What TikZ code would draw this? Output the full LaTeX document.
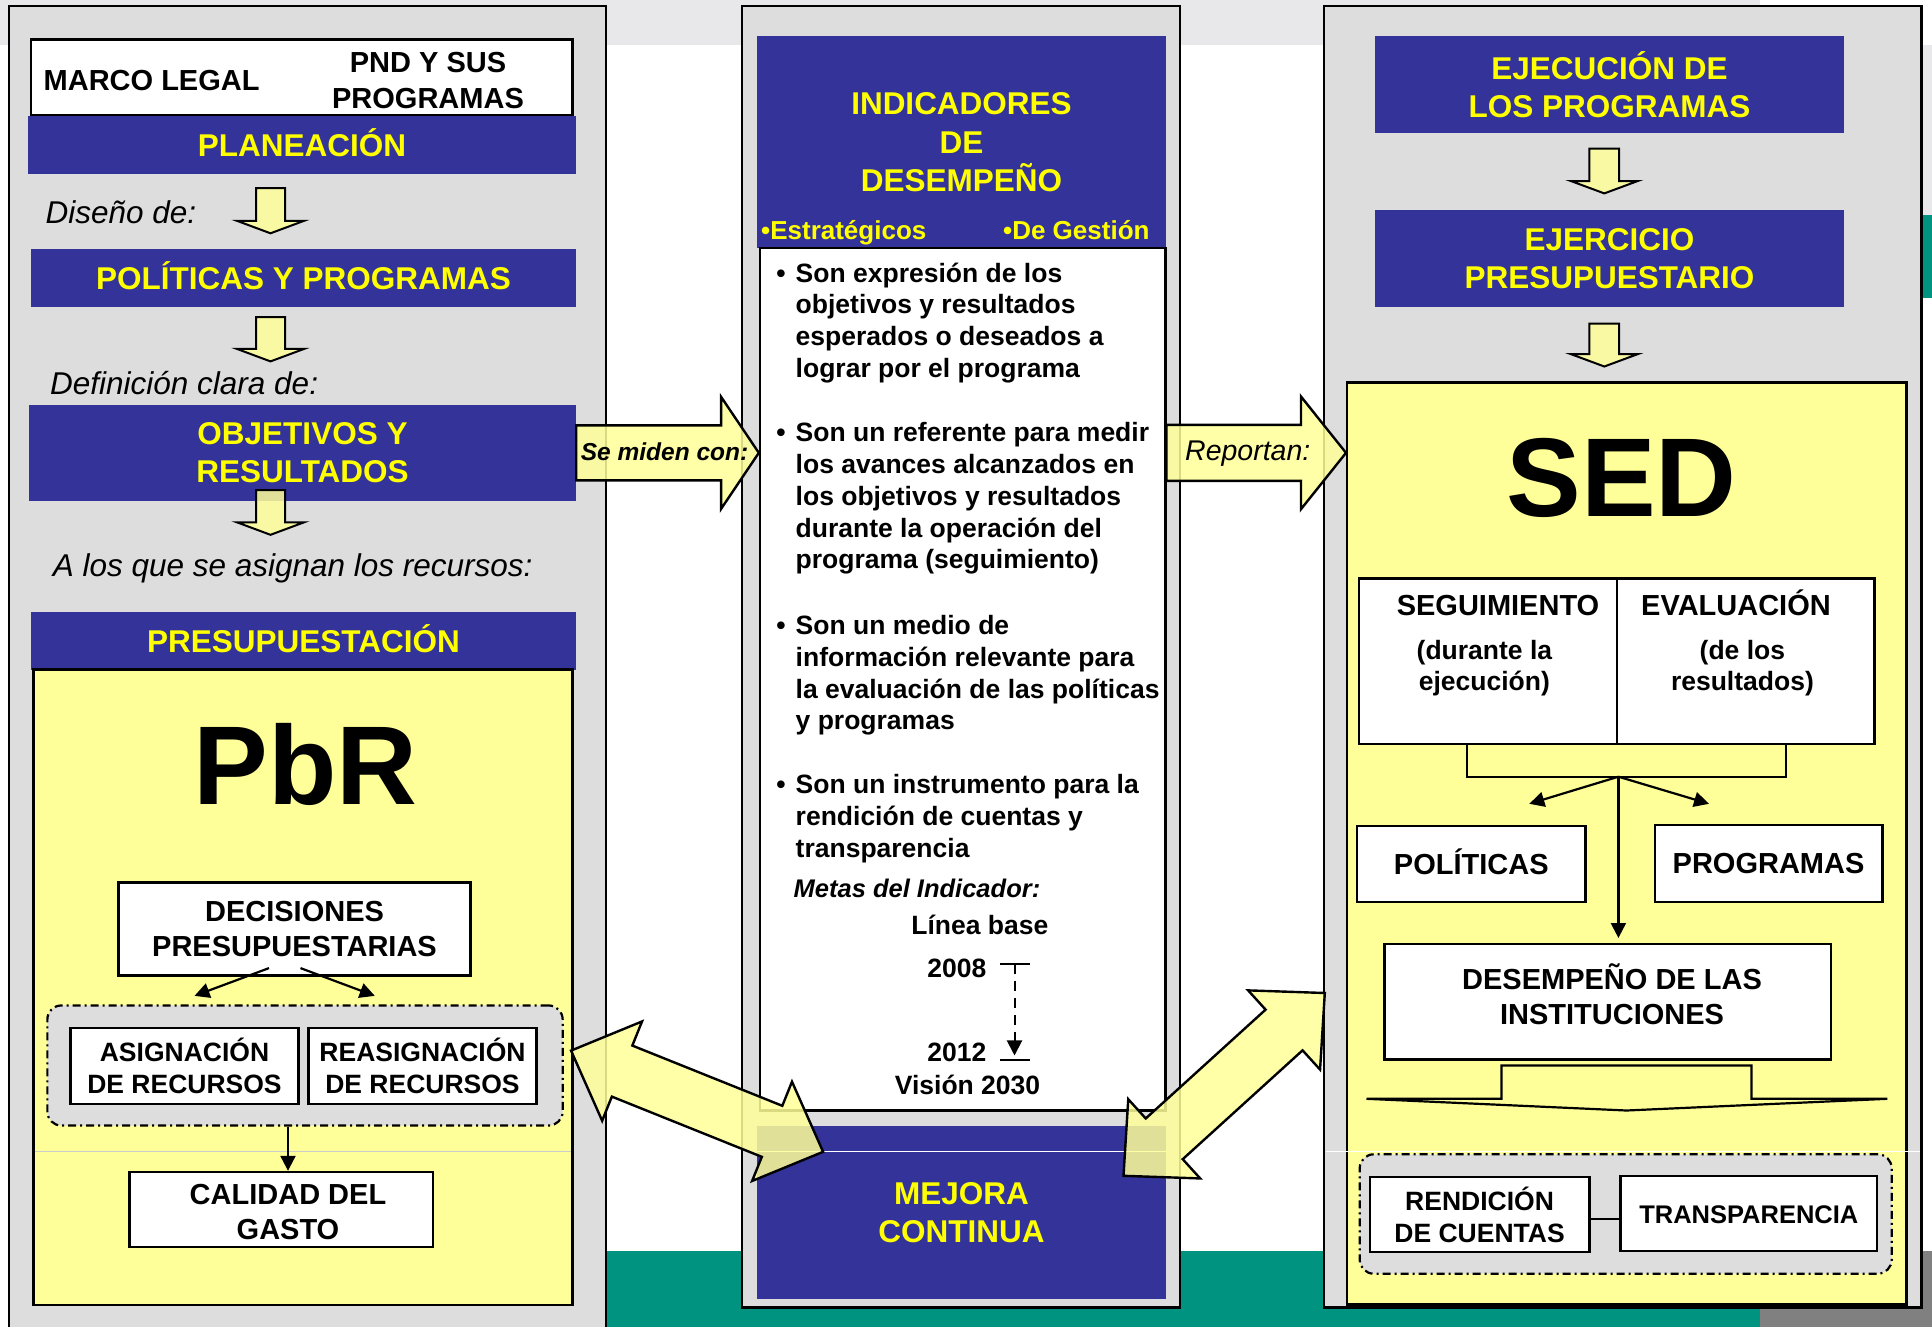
\documentclass[tikz,border=0pt]{standalone}
\usepackage{fontspec}
\setmainfont{Liberation Sans}
\usetikzlibrary{calc}
\usetikzlibrary{arrows.meta}

\definecolor{pptblue}{RGB}{51,51,153}
\definecolor{pptyellow}{RGB}{255,255,0}
\definecolor{paleyellow}{RGB}{255,255,153}
\definecolor{panelgray}{RGB}{221,221,221}
\definecolor{topgray}{RGB}{232,232,234}
\definecolor{slideteal}{RGB}{0,148,128}
\definecolor{slidegray}{RGB}{128,128,128}

\tikzset{
  panel/.style={draw, line width=2.4pt, fill=panelgray},
  bluebar/.style={fill=pptblue, text=pptyellow, inner sep=0pt, align=center,
    font=\fontsize{31.5}{38.5}\selectfont\bfseries},
  barline/.style={text height=22.6pt, text depth=0pt},
  whitebox/.style={draw, line width=2.4pt, fill=white, inner sep=0pt, align=center,
    font=\fontsize{29}{34.5}\selectfont\bfseries},
  boxline/.style={text height=20.8pt, text depth=0pt},
  smallbox/.style={whitebox, font=\fontsize{26.5}{32}\selectfont\bfseries},
  smallline/.style={text height=19pt, text depth=0pt},
  yellowbox/.style={draw, line width=2.4pt, fill=paleyellow},
  groupbox/.style={draw, line width=2.2pt, fill=panelgray, rounded corners=14pt,
    dash pattern=on 8pt off 4pt on 2pt off 4pt},
  boxtext/.style={inner sep=0pt, align=center, font=\fontsize{29}{34.5}\selectfont\bfseries},
  subnote/.style={inner sep=0pt, align=center, font=\fontsize{26.5}{30.2}\selectfont\bfseries},
  note/.style={inner sep=0pt, font=\fontsize{31.5}{38}\selectfont\itshape},
  subhead/.style={inner sep=0pt, text=pptyellow, font=\fontsize{26}{31}\selectfont\bfseries},
  bullettext/.style={inner sep=0pt, align=left, anchor=north west,
    font=\fontsize{26.5}{31.8}\selectfont\bfseries},
  metatext/.style={inner sep=0pt, font=\fontsize{26.5}{31.8}\selectfont\bfseries},
  bigword/.style={inner sep=0pt, font=\fontsize{112}{124}\selectfont\bfseries},
  plainline/.style={line width=2.2pt},
  link/.style={line width=2.2pt, -{Stealth[length=15pt,width=15pt,inset=0pt]}},
  blockstyle/.style={draw, line width=2.4pt, fill=paleyellow, fill opacity=0.85},
}

% tail, tip, shaft half width, head half width, head length
\newcommand{\blockarrow}[6][]{%
  \path ($(#3)!#6!(#2)$) coordinate (hb);
  \draw[blockstyle,#1] ($(#2)!#4!90:(#3)$) -- ($(hb)!#4!90:(#3)$) -- ($(hb)!#5!90:(#3)$) -- (#3)
    -- ($(hb)!#5!-90:(#3)$) -- ($(hb)!#4!-90:(#3)$) -- ($(#2)!#4!-90:(#3)$) -- cycle;}
% tip, tip, shaft half width, head half width, head length
\newcommand{\doublearrow}[5]{%
  \path ($(#1)!#5!(#2)$) coordinate (hba) ($(#2)!#5!(#1)$) coordinate (hbb);
  \draw[blockstyle] (#1) -- ($(hba)!#4!90:(#2)$) -- ($(hba)!#3!90:(#2)$) -- ($(hbb)!#3!90:(#2)$)
    -- ($(hbb)!#4!90:(#2)$) -- (#2) -- ($(hbb)!#4!-90:(#2)$) -- ($(hbb)!#3!-90:(#2)$)
    -- ($(hba)!#3!-90:(#2)$) -- ($(hba)!#4!-90:(#2)$) -- cycle;}

\begin{document}
\begin{tikzpicture}[x=1pt, y=-1pt]
  \useasboundingbox (0,0) rectangle (1932,1327);
  % slide background
  \fill[white] (0,0) rectangle (1932,1327);
  \fill[topgray] (0,0) rectangle (1760,45);
  \fill[topgray] (1922,45) rectangle (1932,215);
  \fill[slideteal] (1922,215) rectangle (1932,298);
  \fill[slideteal] (600,1251) rectangle (1760,1327);
  \fill[slidegray] (1760,1251) rectangle (1932,1327);

  \draw[panel] (9,6) rectangle (606,1345);
  \draw[panel] (742,6) rectangle (1180,1307.6);
  \draw[panel] (1324,6) rectangle (1921.5,1307.6);

  % planeacion / presupuestacion
  \node[whitebox, minimum width=541.5pt, minimum height=76.2pt] (marco) at (301.75,77.5) {};
  \node[boxtext, anchor=base west] (legal) at (43.5,90.7) {MARCO LEGAL};
  \node[boxtext, anchor=north, font=\fontsize{29}{36.3}\selectfont\bfseries] (pnd) at (428,51.9) {PND Y SUS\\PROGRAMAS};
  \node[bluebar, barline, minimum width=548pt, minimum height=58.4pt] (plan) at (302,144.8) {PLANEACIÓN};
  \node[note, anchor=base west] (diseno) at (45.5,223) {Diseño de:};
  \node[bluebar, barline, minimum width=545pt, minimum height=57.5pt] (polprog) at (303.5,277.75) {POLÍTICAS Y PROGRAMAS};
  \node[note, anchor=base west] (defin) at (50,394) {Definición clara de:};
  \node[bluebar, minimum width=547pt, minimum height=95.7pt] (objres) at (302.5,452.85) {OBJETIVOS Y\\RESULTADOS};
  \node[note, anchor=base west] (asignan) at (52.6,576) {A los que se asignan los recursos:};
  \node[bluebar, barline, minimum width=545pt, minimum height=57.2pt] (presup) at (303.5,641) {PRESUPUESTACIÓN};
  \node[yellowbox, minimum width=539pt, minimum height=635.4pt] (pbrbox) at (303,987.3) {};
  \node[bigword, anchor=base] (pbr) at (305.5,804) {PbR};
  \node[whitebox, minimum width=352pt, minimum height=93pt] (decis) at (294.5,929) {DECISIONES\\PRESUPUESTARIAS};
  \node[groupbox, minimum width=515.3pt, minimum height=120.1pt] (grupo) at (305,1065.5) {};
  \node[smallbox, minimum width=228pt, minimum height=76.2pt] (asig) at (184.5,1066) {ASIGNACIÓN\\DE RECURSOS};
  \node[smallbox, minimum width=228pt, minimum height=76.2pt] (reasig) at (422.5,1066) {REASIGNACIÓN\\DE RECURSOS};
  \node[whitebox, minimum width=303.7pt, minimum height=75pt] (calidad) at (281.2,1209.5) {};
  \node[boxtext, anchor=north] (calidadtxt) at (288,1184.2) {CALIDAD DEL\\GASTO};

  % indicadores
  \node[bluebar, minimum width=409pt, minimum height=211.5pt] (indic) at (961.5,142.25) {INDICADORES\\DE\\DESEMPEÑO};
  \node[subhead, anchor=base west] (estrat) at (761,239) {•Estratégicos};
  \node[subhead, anchor=base west] (gestion) at (1003,239) {•De Gestión};
  \node[whitebox, minimum width=405.3pt, minimum height=862.5pt] (body) at (962.65,679.25) {};
  \node[bullettext] (b1) at (795.5,262.4) {\llap{•\hspace{10pt}}Son expresión de los\\objetivos y resultados\\esperados o deseados a\\lograr por el programa};
  \node[bullettext] (b2) at (795.5,422.2) {\llap{•\hspace{10pt}}Son un referente para medir\\los avances alcanzados en\\los objetivos y resultados\\durante la operación del\\programa (seguimiento)};
  \node[bullettext] (b3) at (795.5,615) {\llap{•\hspace{10pt}}Son un medio de\\información relevante para\\la evaluación de las políticas\\y programas};
  \node[bullettext] (b4) at (795.5,774.3) {\llap{•\hspace{10pt}}Son un instrumento para la\\rendición de cuentas y\\transparencia};
  \node[metatext, font=\fontsize{25.5}{30}\selectfont\bfseries\itshape, anchor=base west] (metas) at (793.5,897.3) {Metas del Indicador:};
  \node[metatext, anchor=base east] (linea) at (1048.6,934) {Línea base};
  \node[metatext, anchor=base east] (y08) at (986.5,977.5) {2008};
  \node[metatext, anchor=base east] (y12) at (986.5,1061.8) {2012};
  \node[metatext, anchor=base] (vision) at (967.5,1094.3) {Visión 2030};
  \node[bluebar, minimum width=409pt, minimum height=172.2pt] (mejora) at (961.5,1212.4) {MEJORA\\CONTINUA};

  % ejecucion / SED
  \node[bluebar, minimum width=469pt, minimum height=96.2pt] (ejec) at (1609.5,84.6) {EJECUCIÓN DE\\LOS PROGRAMAS};
  \node[bluebar, minimum width=469pt, minimum height=96.6pt] (ejer) at (1609.5,258.5) {EJERCICIO\\PRESUPUESTARIO};
  \node[yellowbox, minimum width=559.4pt, minimum height=922.1pt] (sedbox) at (1626.9,843.35) {};
  \node[bigword, anchor=base] (sed) at (1621.5,516.2) {SED};
  \node[whitebox, minimum width=258pt, minimum height=165.6pt] (seg) at (1488.2,661.2) {};
  \node[whitebox, minimum width=257.2pt, minimum height=165.6pt] (eval) at (1745.8,661.2) {};
  \node[boxtext, anchor=base] (segtit) at (1498,615.7) {SEGUIMIENTO};
  \node[subnote, anchor=north] (segsub) at (1484.4,640.4) {(durante la\\ejecución)};
  \node[boxtext, anchor=base] (evaltit) at (1736,615.7) {EVALUACIÓN};
  \node[subnote, anchor=north] (evalsub) at (1742.4,640.4) {(de los\\resultados)};
  \node[whitebox, boxline, minimum width=228.2pt, minimum height=75.8pt] (polit) at (1471.3,863.9) {POLÍTICAS};
  \node[whitebox, boxline, minimum width=227.7pt, minimum height=76.8pt] (progr) at (1768.55,863.4) {PROGRAMAS};
  \node[whitebox, minimum width=446.6pt, minimum height=115.9pt] (desemp) at (1607.9,1001.65) {};
  \node[boxtext, anchor=north] (desemptxt) at (1612,963.6) {DESEMPEÑO DE LAS\\INSTITUCIONES};
  \draw[plainline, fill=paleyellow] (1501.5,1065.4) -- (1751.4,1065.4) -- (1751.4,1098.8) -- (1887.3,1098.8)
    -- (1626.5,1110.5) -- (1366.5,1098.8) -- (1501.5,1098.8) -- cycle;
  \node[groupbox, minimum width=532pt, minimum height=119.4pt] (rendgrp) at (1625.7,1214) {};
  \node[smallbox, minimum width=219.7pt, minimum height=75.3pt] (rend) at (1479.55,1214.45) {RENDICIÓN\\DE CUENTAS};
  \node[smallbox, smallline, font=\fontsize{25.5}{32}\selectfont\bfseries, minimum width=256.8pt, minimum height=75.2pt] (transp) at (1748.8,1213.6) {TRANSPARENCIA};

  % faint slide guide line
  \draw[black!20, line width=1pt] (35,1151) -- (571,1151);
  \draw[white, line width=1pt] (757,1151) -- (1166,1151);
  \draw[white, line width=1pt] (1325.5,1151) -- (1920,1151);

  % thin connectors
  \draw[link] ([xshift=-25.5pt,yshift=8.6pt]decis.south) -- ([xshift=-110.5pt,yshift=8.5pt]grupo.north);
  \draw[link] ([xshift=6pt,yshift=8.6pt]decis.south) -- ([xshift=69.8pt,yshift=8.5pt]grupo.north);
  \draw[link] (grupo.south -| calidadtxt.north) -- (calidad.north -| calidadtxt.north);
  \draw[plainline] ([xshift=-20.9pt]seg.south) -- ++(0,31.5) -| ([xshift=40pt]eval.south);
  \coordinate (junct) at ([yshift=-31.5pt]seg.south east);
  \draw[link] (junct) -- ([xshift=58pt,yshift=21pt]polit.north);
  \draw[link] (junct) -- ([xshift=-59.5pt,yshift=20pt]progr.north);
  \draw[link, shorten >=4.5pt] (junct) -- (junct |- desemp.north);
  \draw[plainline] ($(rend.east)+(0,4.3)$) -- ($(rend.east -| transp.west)+(0,4.3)$);
  \coordinate (tl8) at ($(y08.east)+(28,-4.5)$);
  \coordinate (tl12) at ($(y12.east)+(28,7.3)$);
  \draw[line width=2pt] ($(tl8)+(-14.3,0)$) -- ($(tl8)+(15,0)$);
  \draw[line width=2pt] ($(tl12)+(-14.3,0)$) -- ($(tl12)+(15,0)$);
  \draw[link, line width=2pt, dash pattern=on 10pt off 7pt, shorten >=4.5pt] (tl8) -- (tl12);

  % block arrows
  \coordinate (a1s) at ([xshift=-31.5pt,yshift=-14pt]plan.south);
  \coordinate (a1e) at ([xshift=-33pt,yshift=15.5pt]polprog.north);
  \coordinate (a2s) at ([xshift=-33pt,yshift=-10.5pt]polprog.south);
  \coordinate (a2e) at ([xshift=-32pt,yshift=43.4pt]objres.north);
  \coordinate (a3s) at ([xshift=-32pt,yshift=10.7pt]objres.south);
  \coordinate (a3e) at ([xshift=-32pt,yshift=-33.9pt]objres.south);
  \blockarrow[line width=2pt]{a1s}{a1e}{14.5pt}{33.6pt}{12.5pt}
  \blockarrow[line width=2pt]{a2s}{a2e}{14.5pt}{33.6pt}{12.5pt}
  \blockarrow[line width=2pt]{a3s}{a3e}{14.5pt}{33.6pt}{12.5pt}
  \coordinate (r1s) at ([xshift=-5.2pt,yshift=-15.7pt]ejec.south);
  \coordinate (r1e) at ([xshift=-5.2pt,yshift=16.6pt]ejer.north);
  \coordinate (r2s) at ([xshift=-5.2pt,yshift=-16.6pt]ejer.south);
  \coordinate (r2e) at ([xshift=-22.6pt,yshift=14.6pt]sedbox.north);
  \blockarrow[line width=2pt]{r1s}{r1e}{14.9pt}{33.5pt}{12.4pt}
  \blockarrow[line width=2pt]{r2s}{r2e}{14.9pt}{33.5pt}{12.4pt}

  \blockarrow{objres.east}{objres.east -| body.west}{27.5pt}{56pt}{37.7pt}
  \node[inner sep=0pt, font=\fontsize{24.5}{30}\selectfont\bfseries\itshape, anchor=base west] (miden) at (580.7,460) {Se miden con:};
  \blockarrow{objres.east -| body.east}{objres.east -| sedbox.west}{28pt}{56.3pt}{45pt}
  \node[inner sep=0pt, font=\fontsize{28.5}{34}\selectfont\itshape, anchor=base west] (reportan) at (1185,460) {Reportan:};

  \coordinate (m1) at ([xshift=7.3pt,yshift=14.9pt]grupo.east);
  \coordinate (m2) at ([xshift=66.3pt,yshift=-25.7pt]mejora.north west);
  \doublearrow{m1}{m2}{27.5pt}{53.5pt}{55pt}
  \coordinate (s1) at ([xshift=-21.2pt,yshift=-149.65pt]sedbox.west);
  \coordinate (s2) at ([xshift=-42.7pt,yshift=-49.7pt]mejora.north east);
  \doublearrow{s1}{s2}{27.5pt}{53.5pt}{55pt}
\end{tikzpicture}
\end{document}
